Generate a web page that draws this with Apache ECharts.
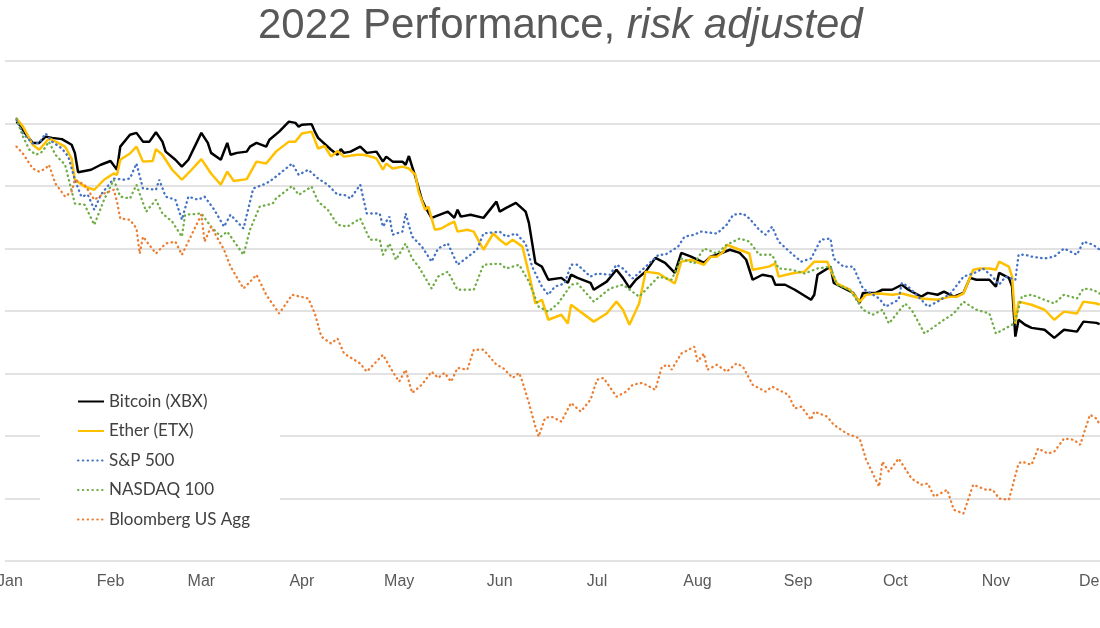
<!DOCTYPE html>
<html>
<head>
<meta charset="utf-8">
<script src="https://cdn.jsdelivr.net/npm/echarts@6/dist/echarts.min.js"></script>
<style>
html,body{margin:0;padding:0;background:#fff;}
#chart{width:1100px;height:628px;}
</style>
</head>
<body>
<div id="chart"></div>
<script>
// x = day of 2022 (0 = Jan 1), y = risk-adjusted index level (arbitrary units, gridline = 1)
const monthStarts = [0, 31, 59, 90, 120, 151, 181, 212, 243, 273, 304, 334];
const monthLabels = ['Jan','Feb','Mar','Apr','May','Jun','Jul','Aug','Sep','Oct','Nov','Dec'];

const btcDays = [2,3,5,7,9,11,13,16,19,20,21,25,28,31,33,34,37,39,41,43,45,47,48,51,53,55,59,61,62,65,67,68,70,73,74,76,79,80,83,86,88,89,90,93,94,95,99,101,102,103,105,108,110,113,115,116,118,121,122,123,124,125,127,128,130,135,137,138,139,142,146,150,151,153,156,159,160,162,163,164,166,170,172,173,175,179,180,184,187,189,191,193,196,199,202,205,207,210,214,216,218,222,225,227,229,232,235,236,239,242,247,248,249,253,254,257,260,262,263,267,269,272,275,277,281,283,286,288,291,294,296,298,302,304,305,308,309,310,311,313,315,319,322,325,329,331,335,336];
const btcVals = [7.03,6.98,6.82,6.69,6.69,6.79,6.77,6.75,6.66,6.53,6.22,6.26,6.34,6.40,6.26,6.63,6.82,6.85,6.71,6.71,6.86,6.71,6.55,6.42,6.31,6.42,6.85,6.69,6.53,6.42,6.69,6.50,6.53,6.55,6.63,6.69,6.63,6.74,6.87,7.03,7.01,6.95,6.98,6.99,6.87,6.77,6.58,6.50,6.59,6.53,6.55,6.63,6.53,6.55,6.39,6.47,6.39,6.39,6.34,6.48,6.31,6.15,5.78,5.67,5.49,5.59,5.49,5.62,5.51,5.54,5.49,5.75,5.59,5.65,5.73,5.59,5.41,4.77,4.74,4.71,4.50,4.53,4.45,4.58,4.53,4.45,4.34,4.47,4.66,4.53,4.37,4.50,4.63,4.85,4.77,4.61,4.93,4.87,4.77,4.87,4.90,4.98,4.93,4.82,4.50,4.58,4.55,4.42,4.42,4.34,4.18,4.26,4.58,4.71,4.45,4.37,4.29,4.13,4.29,4.29,4.34,4.34,4.42,4.34,4.23,4.29,4.26,4.31,4.23,4.29,4.53,4.50,4.50,4.39,4.61,4.53,4.39,3.59,3.86,3.78,3.73,3.70,3.57,3.70,3.67,3.83,3.81,3.79];

const ethDays = [2,4,7,9,12,13,17,19,20,23,26,29,32,33,34,37,39,41,44,45,47,50,53,56,59,62,65,67,69,73,76,79,82,86,88,90,93,95,97,99,101,103,107,109,112,113,115,116,118,121,123,125,126,128,129,131,133,135,137,138,141,143,146,149,151,153,155,158,160,162,164,166,170,172,173,180,184,187,189,191,194,196,200,205,207,210,214,216,218,220,221,225,228,229,234,236,237,241,245,248,252,253,255,257,259,262,264,268,272,275,281,286,290,292,294,297,299,302,304,305,308,309,310,311,315,319,322,325,329,331,335,336];
const ethVals = [7.08,6.95,6.66,6.58,6.76,6.74,6.63,6.44,6.10,5.99,5.94,6.10,6.20,6.18,6.42,6.52,6.63,6.39,6.40,6.59,6.50,6.26,6.10,6.26,6.43,6.20,6.02,6.23,6.08,6.11,6.39,6.36,6.55,6.71,6.71,6.84,6.87,6.60,6.64,6.47,6.56,6.47,6.50,6.50,6.46,6.44,6.26,6.36,6.28,6.31,6.28,6.18,5.91,5.62,5.67,5.30,5.32,5.38,5.43,5.27,5.30,5.27,4.98,5.24,5.14,5.06,5.14,5.03,4.60,4.12,4.18,3.86,3.94,3.80,4.10,3.83,3.96,4.15,4.02,3.78,4.12,4.63,4.60,4.44,4.79,4.82,4.74,4.87,4.87,4.95,5.06,4.98,4.92,4.66,4.71,4.76,4.55,4.60,4.63,4.79,4.79,4.66,4.44,4.39,4.34,4.15,4.26,4.28,4.26,4.28,4.20,4.18,4.23,4.23,4.28,4.66,4.68,4.68,4.66,4.79,4.71,4.55,3.80,4.15,4.10,4.02,3.86,3.99,3.96,4.15,4.12,4.10];

const spxDays = [2,4,7,9,11,13,16,18,20,22,24,26,28,32,35,37,39,41,45,46,48,51,53,55,58,60,63,66,68,72,75,78,80,82,87,89,92,95,98,101,103,105,108,110,114,115,117,118,121,122,124,127,130,132,135,138,142,144,146,151,153,156,159,161,164,166,168,171,173,175,179,181,185,187,189,192,195,200,202,206,208,211,213,218,221,223,226,228,231,233,235,237,241,244,247,250,253,254,257,260,263,268,270,274,275,277,281,283,286,290,294,297,300,303,305,307,310,311,313,315,319,322,325,329,331,334,336];
const spxVals = [7.06,6.84,6.68,6.69,6.84,6.71,6.60,6.47,6.10,5.83,5.86,5.62,5.86,6.12,6.10,6.12,6.36,5.96,5.94,6.10,5.83,5.78,5.46,5.83,5.78,5.83,5.62,5.35,5.54,5.32,5.96,6.02,6.07,6.15,6.36,6.18,6.26,6.12,6.02,5.86,5.86,5.80,6.02,5.56,5.56,5.35,5.51,5.22,5.27,5.56,5.19,5.03,4.79,5.00,5.08,4.74,4.90,4.98,5.24,5.27,5.19,5.24,5.08,4.71,4.39,4.26,4.39,4.44,4.74,4.74,4.55,4.60,4.58,4.74,4.68,4.52,4.66,4.90,4.90,5.03,5.19,5.22,5.27,5.24,5.38,5.54,5.56,5.48,5.30,5.22,5.35,5.11,4.92,4.79,4.84,5.14,5.16,4.84,4.71,4.71,4.36,4.20,4.07,4.18,4.45,4.39,4.18,4.07,4.15,4.28,4.55,4.60,4.68,4.55,4.42,4.55,4.50,4.90,4.90,4.87,4.84,4.87,5.00,4.90,5.11,5.06,4.98];

const ndxDays = [2,4,6,8,10,12,14,17,20,23,26,29,32,34,37,39,42,45,47,50,53,54,59,62,65,67,72,74,77,81,82,87,89,93,95,98,101,104,108,111,114,115,117,119,122,124,126,130,132,135,138,143,146,151,153,157,160,163,166,169,173,175,180,185,189,194,200,204,207,211,214,218,221,225,228,231,235,237,241,245,249,253,255,259,263,266,269,271,276,278,282,285,288,291,294,298,302,304,309,310,312,315,319,322,325,329,331,334,336];
const ndxVals = [7.08,6.79,6.58,6.50,6.55,6.71,6.50,6.34,5.72,5.70,5.38,5.78,6.10,5.83,5.80,6.02,5.59,5.78,5.56,5.43,5.19,5.54,5.56,5.35,5.19,5.27,4.90,5.30,5.67,5.72,5.80,6.00,5.86,5.99,5.75,5.62,5.38,5.35,5.48,5.14,5.14,4.90,5.08,4.82,5.08,4.84,4.71,4.36,4.55,4.63,4.34,4.34,4.74,4.76,4.68,4.74,4.47,4.07,3.99,4.12,4.42,4.44,4.15,4.36,4.42,4.23,4.55,4.50,4.84,4.76,5.00,4.92,5.06,5.16,5.11,4.90,4.90,4.68,4.66,4.60,4.68,4.71,4.42,4.34,4.02,3.94,4.02,3.80,4.12,4.02,3.64,3.75,3.86,3.96,4.15,4.02,3.96,3.64,3.78,3.86,4.23,4.26,4.18,4.12,4.26,4.20,4.36,4.34,4.28];

const aggDays = [2,4,7,9,11,12,14,17,19,20,23,26,29,32,33,34,37,39,40,41,45,48,51,53,56,59,60,62,66,68,72,75,76,79,83,87,92,94,96,99,101,103,108,110,115,118,120,122,124,127,130,132,134,136,138,141,143,146,150,152,155,157,158,160,162,163,165,167,170,173,176,179,181,183,187,190,192,195,199,201,203,204,207,211,212,214,215,218,221,224,226,229,233,235,240,242,244,247,248,252,254,258,262,264,268,269,271,274,278,281,283,285,289,291,294,297,301,303,305,308,311,312,315,317,320,322,325,328,330,332,333,335,336];
const aggVals = [6.63,6.52,6.28,6.23,6.28,6.34,6.04,5.83,5.91,6.10,6.02,5.78,5.88,5.94,5.75,5.48,5.46,5.32,4.92,5.19,4.92,5.08,5.11,4.90,5.22,5.54,5.11,5.35,4.98,4.71,4.36,4.52,4.58,4.26,3.96,4.26,4.20,3.96,3.59,3.48,3.56,3.32,3.16,3.03,3.30,3.03,2.87,3.06,2.69,2.82,3.03,2.93,3.01,2.87,3.09,3.06,3.38,3.38,3.14,3.09,2.93,3.01,2.87,2.53,2.15,1.99,2.29,2.31,2.23,2.53,2.39,2.58,2.90,2.93,2.63,2.71,2.82,2.85,2.74,3.11,3.14,3.06,3.32,3.43,3.19,3.32,3.06,3.14,3.03,3.16,3.11,2.82,2.71,2.79,2.66,2.44,2.47,2.26,2.39,2.31,2.18,2.04,1.96,1.62,1.19,1.59,1.43,1.64,1.32,1.22,1.24,1.03,1.14,0.82,0.76,1.22,1.14,1.14,1.00,0.98,1.56,1.59,1.54,1.80,1.72,1.75,1.96,1.94,1.86,2.18,2.34,2.28,2.18];

function pairs(d, v) { return d.map((x, i) => [x, v[i]]); }

const dotted = [0.5, 4.3];
const chart = echarts.init(document.getElementById('chart'), null, {renderer: 'canvas'});
const narrow = "'Liberation Sans Narrow', 'Arial Narrow', 'Liberation Sans', sans-serif";

function lineSeries(name, d, v, color, width, type) {
  return {
    name: name, type: 'line', data: pairs(d, v),
    symbol: 'none', showSymbol: false,
    lineStyle: type ? { color: color, width: width, type: type, cap: 'round' } : { color: color, width: width },
    itemStyle: { color: color },
    emphasis: { disabled: true }
  };
}

chart.setOption({
  animation: false,
  backgroundColor: '#ffffff',
  title: {
    text: '2022 Performance, {i|risk adjusted}',
    left: 253,
    top: 0,
    textStyle: {
      fontFamily: narrow,
      fontSize: 42,
      fontWeight: 'normal',
      color: '#595959',
      rich: {
        i: { fontFamily: narrow, fontSize: 42, fontStyle: 'italic', color: '#595959' }
      }
    }
  },
  legend: {
    orient: 'vertical',
    left: 40,
    top: 380,
    padding: [13, 30, 10, 37],
    backgroundColor: '#ffffff',
    itemWidth: 26,
    itemHeight: 14,
    itemGap: 12.5,
    itemStyle: { opacity: 0 },
    textStyle: { fontFamily: 'Lato, sans-serif', fontSize: 17, color: '#404040' },
    data: ['Bitcoin (XBX)', 'Ether (ETX)', 'S&P 500', 'NASDAQ 100', 'Bloomberg US Agg']
  },
  grid: { left: 5, right: 0, top: 61, bottom: 67, containLabel: false, outerBoundsMode: 'none' },
  xAxis: {
    type: 'value',
    min: -1.54,
    max: 336.1,
    axisLine: { show: false },
    axisTick: { show: false },
    splitLine: { show: false },
    axisLabel: {
      customValues: monthStarts,
      formatter: function (v) { const i = monthStarts.indexOf(v); return i >= 0 ? monthLabels[i] : ''; },
      color: '#595959',
      fontFamily: narrow,
      fontSize: 16,
      margin: 13
    }
  },
  yAxis: {
    type: 'value',
    min: 0,
    max: 8,
    interval: 1,
    axisLine: { show: false },
    axisTick: { show: false },
    axisLabel: { show: false },
    splitLine: { lineStyle: { color: '#d9d9d9', width: 1.5 } }
  },
  series: [
    lineSeries('Bitcoin (XBX)', btcDays, btcVals, '#000000', 2.5),
    lineSeries('Ether (ETX)', ethDays, ethVals, '#FFC000', 2.5),
    lineSeries('S&P 500', spxDays, spxVals, '#4472C4', 2.3, dotted),
    lineSeries('NASDAQ 100', ndxDays, ndxVals, '#70AD47', 2.3, dotted),
    lineSeries('Bloomberg US Agg', aggDays, aggVals, '#ED7D31', 2.3, dotted)
  ]
});
</script>
</body>
</html>
